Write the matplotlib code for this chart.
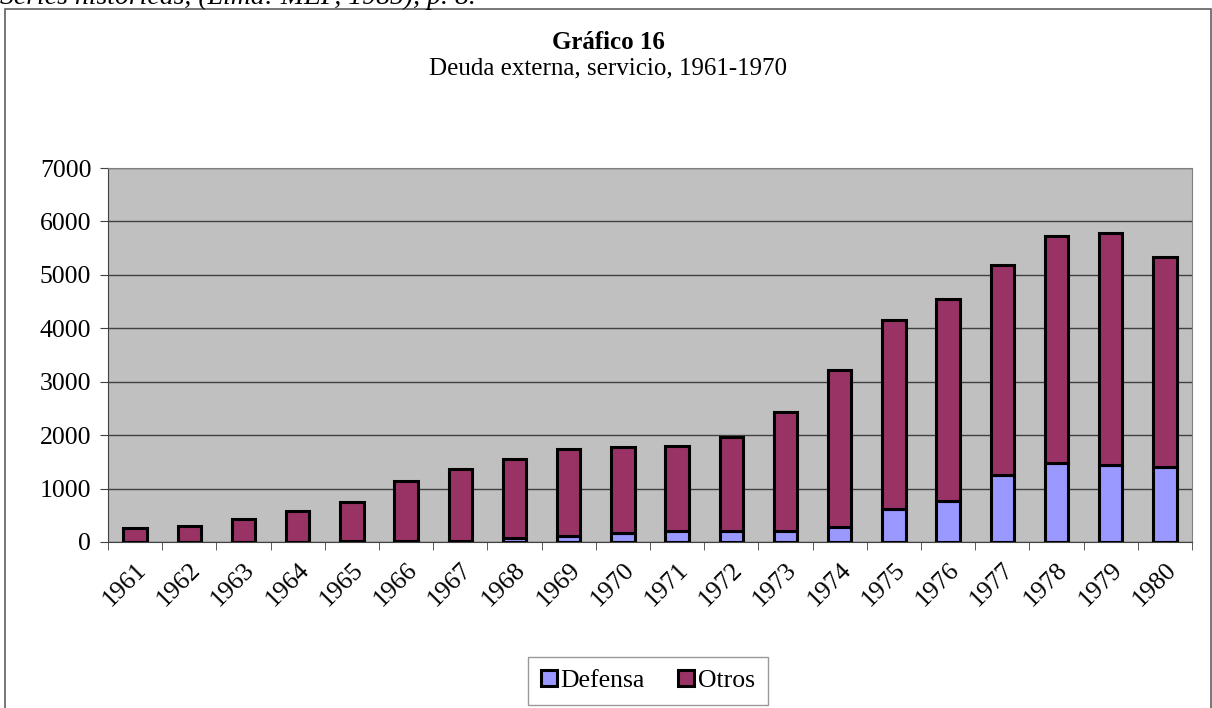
import matplotlib.pyplot as plt
import numpy as np
from matplotlib.patches import Rectangle

plt.rcParams['font.family'] = ['Liberation Serif', 'DejaVu Serif']

years = [str(y) for y in range(1961, 1981)]
total = [262, 306, 431, 581, 756, 1150, 1363, 1544, 1738, 1775,
         1800, 1957, 2439, 3227, 4152, 4553, 5178, 5735, 5784, 5340]
defensa = [0, 0, 0, 5, 20, 20, 20, 75, 105, 162,
           206, 212, 206, 287, 619, 769, 1257, 1475, 1444, 1401]
otros = [t - d for t, d in zip(total, defensa)]

fig = plt.figure(figsize=(12.12, 7.08), dpi=100)
ax = fig.add_axes([0.0891, 0.2345, 0.8944, 0.5282])

x = np.arange(len(years))
w = 0.43
ax.bar(x, defensa, w, color='#9999FF', edgecolor='black', linewidth=2.2,
       label='Defensa', zorder=3)
ax.bar(x, otros, w, bottom=defensa, color='#993366', edgecolor='black',
       linewidth=2.2, label='Otros', zorder=3)

ax.set_facecolor('#C0C0C0')
ax.set_xlim(-0.5, len(years) - 0.5)
ax.set_ylim(0, 7000)
ax.set_yticks(range(0, 7001, 1000))
ax.yaxis.grid(True, color='#404040', linewidth=1, zorder=1)
ax.tick_params(axis='y', labelsize=18.5, length=6, color='#404040', pad=6)

ax.set_xticks(x)
ax.set_xticklabels(years, rotation=45, ha='right', rotation_mode='anchor',
                   fontsize=18.5)
ax.set_xticks(np.arange(-0.5, len(years), 1), minor=True)
ax.tick_params(axis='x', which='major', length=0, pad=12)
ax.tick_params(axis='x', which='minor', length=6, color='#404040')

for side in ['top', 'right']:
    ax.spines[side].set_color('#808080')
for side in ['left', 'bottom']:
    ax.spines[side].set_color('#404040')

fig.text(0.5017, 0.940, 'Gráfico 16', ha='center', va='center',
         fontsize=18, fontweight='bold')
fig.text(0.5017, 0.904, 'Deuda externa, servicio, 1961-1970', ha='center',
         va='center', fontsize=18)

# source line above the chart box, partly outside the page
fig.text(0.0, 1.003, 'Series históricas, (Lima: MEF, 1985), p. 8.',
         ha='left', va='center', fontsize=20, style='italic')

fig.patches.append(Rectangle((5 / 1212, -0.01), 1206 / 1212, 0.9987 - 8 / 708 + 0.01,
                             transform=fig.transFigure, fill=False,
                             edgecolor='#606060', linewidth=1.2))

leg = fig.legend(loc='center', bbox_to_anchor=(648 / 1212, 1 - 681 / 708),
                 ncol=2, fontsize=18.5, frameon=True, fancybox=False,
                 edgecolor='#808080', handlelength=0.6, handleheight=0.6,
                 handletextpad=0.15, columnspacing=1.3, borderpad=0.5,
                 borderaxespad=0)
leg.get_frame().set_linewidth(1)

fig.savefig('out.png', dpi=100)
